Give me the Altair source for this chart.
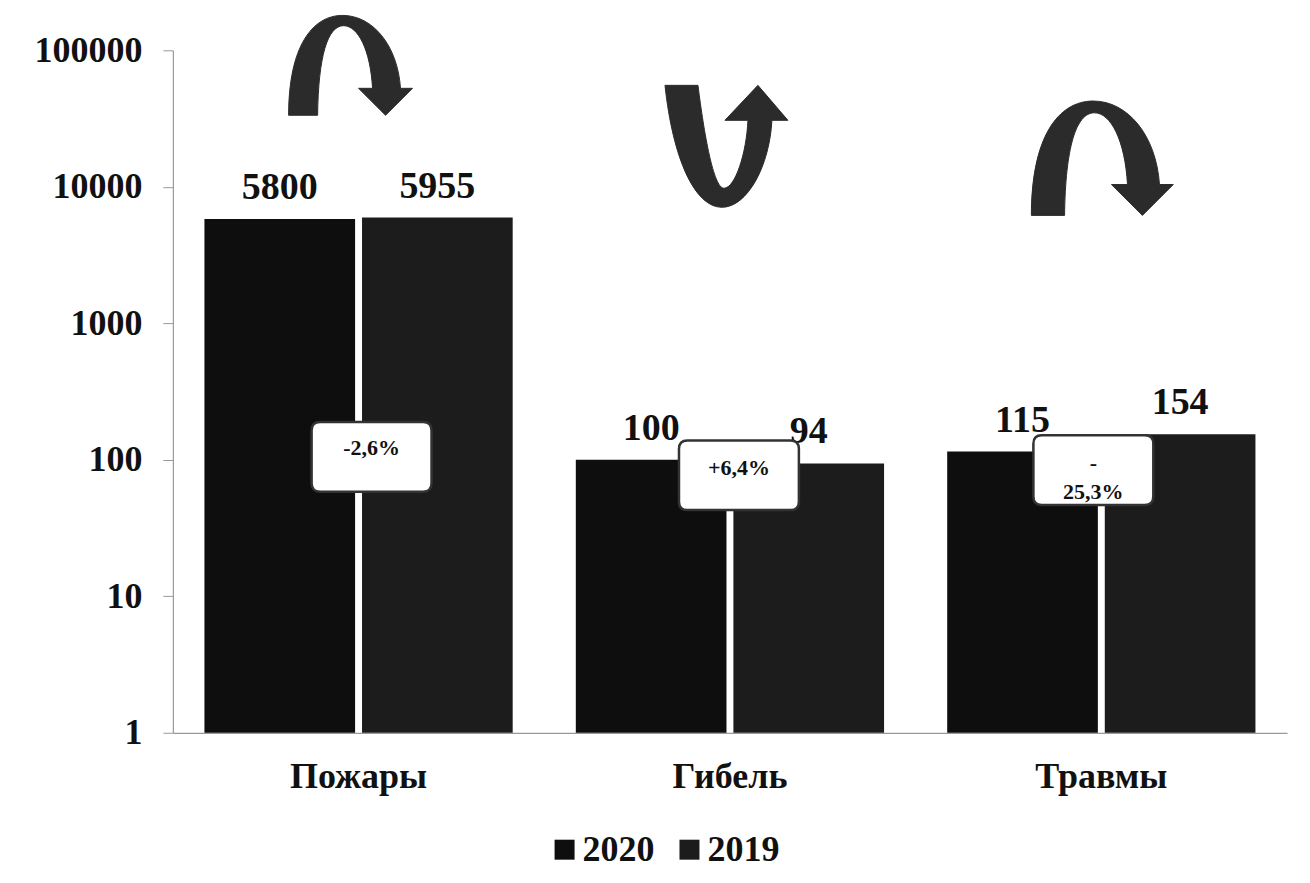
import altair as alt
import pandas as pd

categories = ["Пожары", "Гибель", "Травмы"]
series = ["2020", "2019"]
values_2020 = [5800, 100, 115]
values_2019 = [5955, 94, 154]
axis_base = 1
changes = ["-2,6%", "+6,4%", "-\n25,3%"]
box_levels = [105, 77, 84]
change_text_levels = [122, 87, 95]
arrow_levels = [77600, 19800, 16200]
y_ticks = [1, 10, 100, 1000, 10000, 100000]
colors = ["#0e0e0e", "#1c1c1c"]

FONT = "Liberation Serif"
ARROW_COLOR = "#2b2b2b"

bars_df = pd.DataFrame(
    [{"category": c, "series": "2020", "value": v, "base": axis_base}
     for c, v in zip(categories, values_2020)]
    + [{"category": c, "series": "2019", "value": v, "base": axis_base}
       for c, v in zip(categories, values_2019)]
)
notes_df = pd.DataFrame({
    "category": categories,
    "change": changes,
    "box": box_levels,
    "tlevel": change_text_levels,
    "alevel": arrow_levels,
})

x_enc = alt.X(
    "category:N", sort=categories,
    scale=alt.Scale(paddingInner=0.17, paddingOuter=0.085),
    axis=alt.Axis(title=None, labelAngle=0, ticks=False, labelFont=FONT,
                  labelFontSize=36, labelFontWeight="bold", labelColor="#111",
                  labelPadding=27, domainColor="#999", domainWidth=1.2),
)
xo_enc = alt.XOffset("series:N", sort=series,
                     scale=alt.Scale(paddingInner=0.044, paddingOuter=0))
y_scale = alt.Scale(type="log", domain=[1, 100000])
y_enc = alt.Y(
    "value:Q", scale=y_scale, stack=None,
    axis=alt.Axis(title=None, values=y_ticks, format="d", grid=False,
                  labelFont=FONT, labelFontSize=36, labelFontWeight="bold",
                  labelColor="#111", labelPadding=21, tickSize=10,
                  tickColor="#999", domainColor="#999", domainWidth=1.2),
)

bars = alt.Chart(bars_df).mark_bar().encode(
    x=x_enc, xOffset=xo_enc, y=y_enc, y2=alt.Y2("base:Q"),
    color=alt.Color(
        "series:N", sort=series,
        scale=alt.Scale(domain=series, range=colors),
        legend=alt.Legend(orient="none", legendX=374, legendY=782, direction="horizontal",
                          title=None, symbolType="square", symbolSize=400,
                          symbolStrokeWidth=0, labelFont=FONT, labelFontSize=36,
                          labelFontWeight="bold", labelColor="#111",
                          labelOffset=0, columnPadding=17),
    ),
)

bar_labels = alt.Chart(bars_df).mark_text(
    font=FONT, fontSize=38, fontWeight="bold", color="#111", baseline="middle", dy=-31
).encode(x=alt.X("category:N", sort=categories), xOffset=alt.XOffset("series:N", sort=series),
         y=alt.Y("value:Q", stack=None), text="value:Q")


def render_path(segments, shift):
    """segments: list of (command, [x, y, x, y, ...]) in unit coordinates."""
    parts = []
    for cmd, pts in segments:
        coords = []
        for j in range(0, len(pts), 2):
            coords.append(f"{pts[j] + shift:.3f} {pts[j + 1]:.3f}")
        parts.append(cmd + " " + " ".join(coords))
    return " ".join(parts) + " Z"


box_segments = [
    ("M", [-0.86, -0.58]), ("L", [0.86, -0.58]), ("Q", [1, -0.58, 1, -0.44]),
    ("L", [1, 0.44]), ("Q", [1, 0.58, 0.86, 0.58]), ("L", [-0.86, 0.58]),
    ("Q", [-1, 0.58, -1, 0.44]), ("L", [-1, -0.44]), ("Q", [-1, -0.58, -0.86, -0.58]),
]
over_down = [
    ("M", [-1, 0.806]), ("C", [-1, -0.3, -0.62, -0.806, -0.129, -0.806]),
    ("C", [0.36, -0.806, 0.76, -0.32, 0.806, 0.371]), ("L", [1, 0.371]),
    ("L", [0.565, 0.806]), ("L", [0.129, 0.371]), ("L", [0.355, 0.371]),
    ("C", [0.32, -0.25, 0.12, -0.64, -0.113, -0.64]),
    ("C", [-0.37, -0.64, -0.52, -0.15, -0.532, 0.806]),
]
under_up = [
    ("M", [-0.976, -0.976]), ("L", [-0.448, -0.976]),
    ("C", [-0.35, -0.2, -0.2, 0.672, -0.032, 0.672]),
    ("C", [0.15, 0.672, 0.33, 0.1, 0.352, -0.416]), ("L", [-0.016, -0.416]),
    ("L", [0.512, -0.976]), ("L", [0.992, -0.416]), ("L", [0.736, -0.416]),
    ("C", [0.7, 0.3, 0.35, 0.976, -0.064, 0.976]),
    ("C", [-0.5, 0.976, -0.85, 0.2, -0.976, -0.976]),
]
# (box shift in px, arrow segments, arrow size, arrow shift in px)
layout = [(13, over_down, 15376, -8), (9, under_up, 15625, -4), (-8, over_down, 20164, 1)]

layers = [bars, bar_labels]
for i, (bshift, aseg, asize, ashift) in enumerate(layout):
    row = notes_df.iloc[[i]]
    layers.append(
        alt.Chart(row).mark_point(
            shape=render_path(box_segments, bshift / 60.0), size=14400, filled=True,
            fill="white", stroke="#333", strokeWidth=2.5, opacity=1
        ).encode(x=alt.X("category:N", sort=categories), y=alt.Y("box:Q"))
    )
    layers.append(
        alt.Chart(row).mark_text(
            font=FONT, fontSize=22, fontWeight="bold", color="#111", lineBreak="\n",
            lineHeight=29, baseline="middle", dx=bshift
        ).encode(x=alt.X("category:N", sort=categories), y=alt.Y("tlevel:Q"),
                 text="change:N")
    )
    half = asize ** 0.5 / 2
    layers.append(
        alt.Chart(row).mark_point(
            shape=render_path(aseg, ashift / half), size=asize, filled=True,
            fill=ARROW_COLOR, stroke=ARROW_COLOR, strokeWidth=1, opacity=1
        ).encode(x=alt.X("category:N", sort=categories), y=alt.Y("alevel:Q"))
    )

chart = alt.layer(*layers).properties(
    width=1115, height=683,
    autosize=alt.AutoSizeParams(type="none"),
    padding={"left": 165, "top": 42, "right": 15, "bottom": 150},
    background="white",
).configure_view(stroke=None)

chart.save("out.html", embed_options={"renderer": "svg", "actions": False})
